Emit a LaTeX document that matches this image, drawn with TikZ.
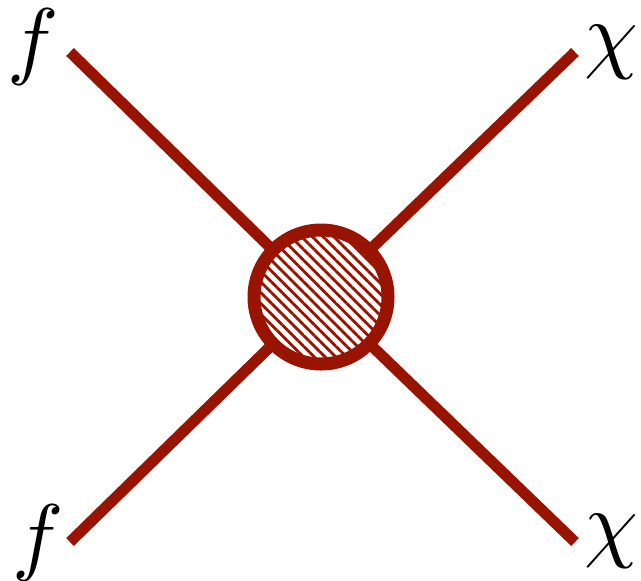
\documentclass[tikz,border=0pt]{standalone}
\usetikzlibrary{patterns.meta}
\definecolor{dred}{RGB}{153,20,0}
\begin{document}
\begin{tikzpicture}[x=0.5pt,y=-0.5pt,
  leg/.style={draw=dred,line width=5.5pt},
  lbl/.style={inner sep=0pt,scale=4.3},
  blob/.style={circle,draw=dred,line width=6.5pt,minimum size=67pt,inner sep=0pt,
    pattern={Lines[angle=-45,distance=3.8pt,line width=1.4pt]},pattern color=dred}]
\useasboundingbox (0,0) rectangle (641,580);
\coordinate (tl) at (70,52);
\coordinate (tr) at (575,52);
\coordinate (bl) at (70,542);
\coordinate (br) at (575,542);
\node[blob] (v) at (321,297) {};
\draw[leg] (tl) -- (v);
\draw[leg] (tr) -- (v);
\draw[leg] (bl) -- (v);
\draw[leg] (br) -- (v);
\node[lbl] (ftl) at (33,47) {$f$};
\node[lbl] (fbl) at (38,543) {$f$};
\node[lbl] (ctr) at (611,52) {$\chi$};
\node[lbl] (cbr) at (611,541) {$\chi$};
\end{tikzpicture}
\end{document}
